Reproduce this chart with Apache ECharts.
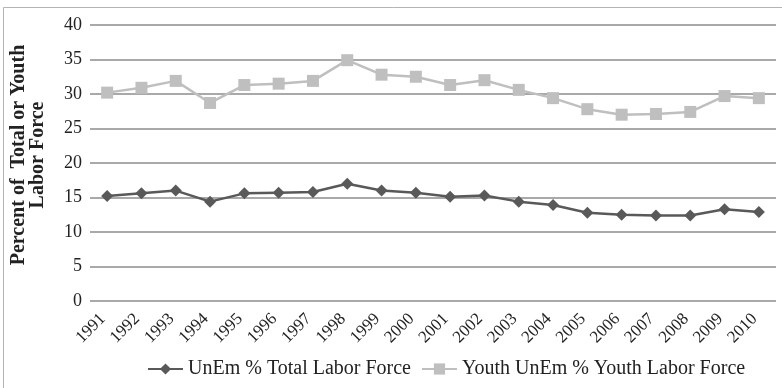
<!DOCTYPE html>
<html>
<head>
<meta charset="utf-8">
<script src="https://cdn.jsdelivr.net/npm/echarts@6/dist/echarts.min.js"></script>
<style>
  html, body { margin: 0; padding: 0; background: #fff; }
  #chart { width: 782px; height: 388px; }
</style>
</head>
<body>
<div id="chart"></div>
<script>
// Years on the category axis
const years = ['1991','1992','1993','1994','1995','1996','1997','1998','1999','2000',
               '2001','2002','2003','2004','2005','2006','2007','2008','2009','2010'];

// Unemployment as % of the total labour force
const totalUnemployment = [15.2, 15.6, 16.0, 14.4, 15.6, 15.7, 15.8, 17.0, 16.0, 15.7,
                           15.1, 15.3, 14.4, 13.9, 12.8, 12.5, 12.4, 12.4, 13.3, 12.9];

// Youth unemployment as % of the youth labour force
const youthUnemployment = [30.2, 30.9, 31.9, 28.7, 31.3, 31.5, 31.9, 34.9, 32.8, 32.5,
                           31.3, 32.0, 30.6, 29.4, 27.8, 27.0, 27.1, 27.4, 29.7, 29.4];

const seriesNames = ['UnEm % Total Labor Force', 'Youth UnEm % Youth Labor Force'];
const yTicks = { min: 0, max: 40, interval: 5 };
const yTitle = 'Percent of  Total or Youth\nLabor Force';

const FONT = '"Liberation Serif", "DejaVu Serif", serif';
const chart = echarts.init(document.getElementById('chart'), null, { renderer: 'canvas' });

chart.setOption({
  backgroundColor: '#ffffff',
  animation: false,
  graphic: [{
    type: 'rect',
    shape: { x: 3.5, y: 7.5, width: 820, height: 420 },
    style: { fill: 'none', stroke: '#b4b4b4', lineWidth: 1 },
    silent: true
  }],
  grid: { left: 90, right: 6, top: 25, bottom: 87, outerBoundsMode: 'none', containLabel: false },
  legend: {
    top: 359,
    left: 147,
    padding: 0,
    itemGap: 10,
    itemWidth: 35,
    itemHeight: 14,
    textStyle: { fontFamily: FONT, fontSize: 20, color: '#222' },
    data: seriesNames
  },
  xAxis: {
    type: 'category',
    data: years,
    boundaryGap: true,
    axisLine: { show: false },
    axisTick: { show: false },
    axisLabel: {
      rotate: 45,
      interval: 0,
      margin: 11,
      padding: [0, 6, 0, 0],
      fontFamily: FONT,
      fontSize: 17,
      color: '#222'
    }
  },
  yAxis: {
    type: 'value',
    min: yTicks.min,
    max: yTicks.max,
    interval: yTicks.interval,
    name: yTitle,
    nameLocation: 'middle',
    nameRotate: 90,
    nameGap: 43,
    nameTextStyle: {
      fontFamily: FONT, fontSize: 20, fontWeight: 'bold', color: '#222',
      lineHeight: 19, align: 'center', padding: [0, 0, 0, 16]
    },
    axisLine: { show: false },
    axisTick: { show: false },
    axisLabel: { fontFamily: FONT, fontSize: 18, color: '#222', margin: 8 },
    splitLine: { lineStyle: { color: '#8c8c8c', width: 1.5 } }
  },
  series: [
    {
      name: seriesNames[0],
      type: 'line',
      data: totalUnemployment,
      symbol: 'diamond',
      symbolSize: 12,
      lineStyle: { color: '#595959', width: 2.5 },
      itemStyle: { color: '#595959' },
      z: 3
    },
    {
      name: seriesNames[1],
      type: 'line',
      data: youthUnemployment,
      symbol: 'rect',
      symbolSize: 12,
      lineStyle: { color: '#bfbfbf', width: 2.5 },
      itemStyle: { color: '#bfbfbf' },
      z: 2
    }
  ]
});
</script>
</body>
</html>
